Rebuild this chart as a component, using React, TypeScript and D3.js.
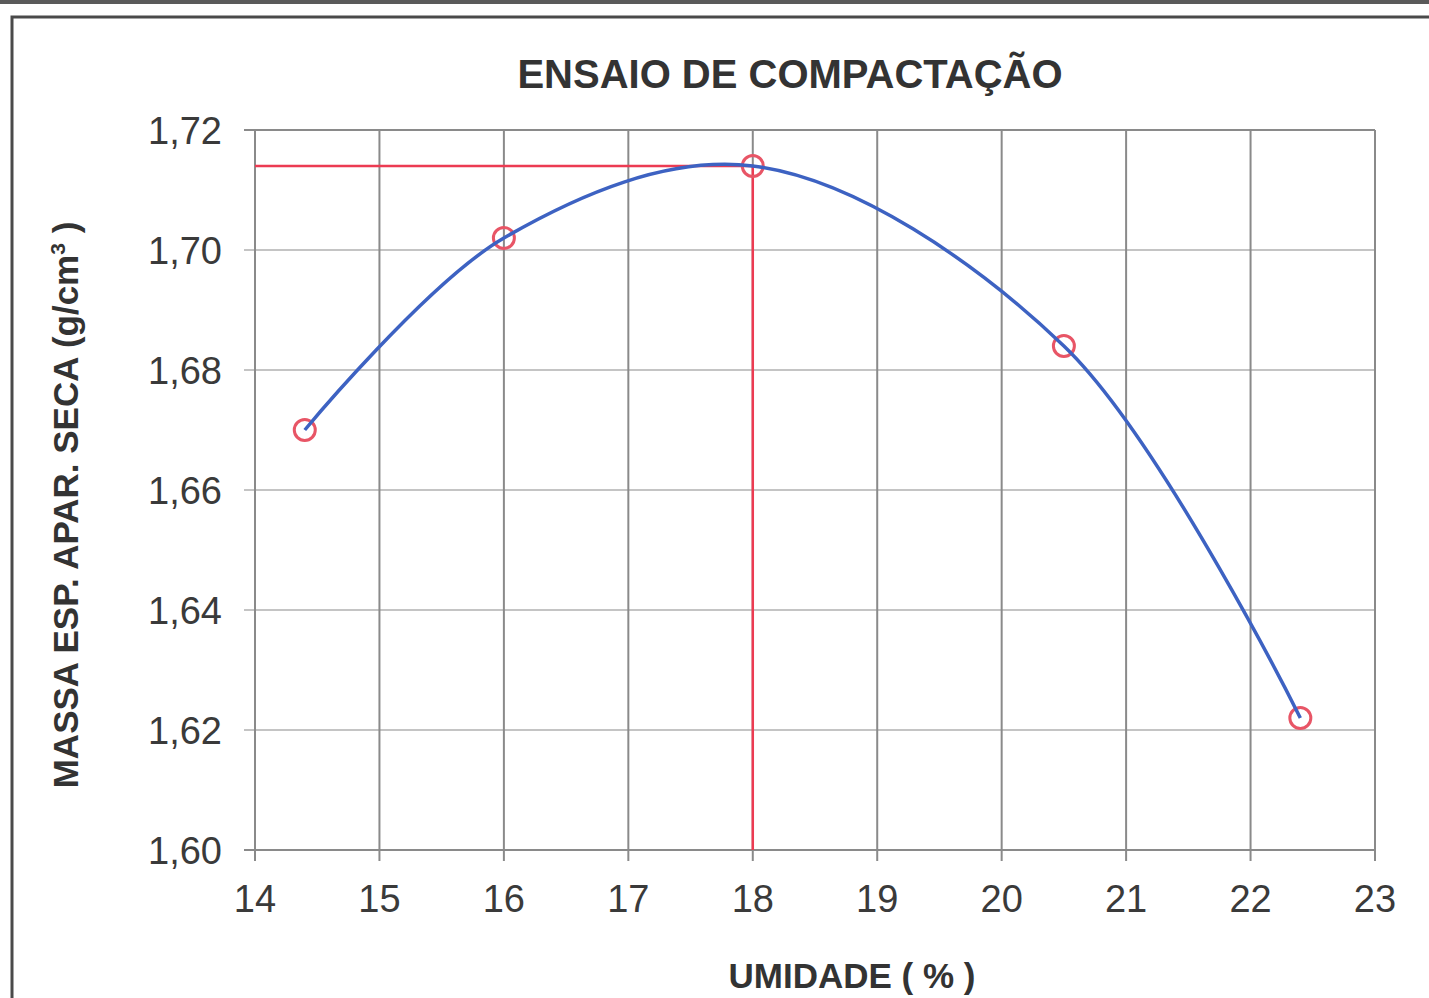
import { useRef, useEffect } from 'react';
import * as d3 from 'd3';

const W = 1429;
const H = 998;

const umidade = [14.4, 16.0, 18.0, 20.5, 22.4];
const massa = [1.670, 1.702, 1.714, 1.684, 1.622];
const xTicks = [14, 15, 16, 17, 18, 19, 20, 21, 22, 23];
const yTicks = [1.60, 1.62, 1.64, 1.66, 1.68, 1.70, 1.72];
const otimo = { umidade: 18.0, massa: 1.714 };

const TITLE = 'ENSAIO DE COMPACTAÇÃO';
const X_LABEL = 'UMIDADE ( % )';
const FONT = '"Liberation Sans", Arial, sans-serif';

export default function App() {
  const ref = useRef<SVGSVGElement>(null);

  useEffect(() => {
    document.body.style.margin = '0';
    const svg = d3.select(ref.current);
    svg.selectAll('*').remove();

    const m = { top: 130, right: 54, bottom: 148, left: 255 };
    const x = d3.scaleLinear().domain([14, 23]).range([m.left, W - m.right]);
    const y = d3.scaleLinear().domain([1.60, 1.72]).range([H - m.bottom, m.top]);

    svg.append('rect').attr('width', W).attr('height', H).attr('fill', '#fff');

    // outer frame of the report page
    svg.append('line').attr('x1', 0).attr('x2', W).attr('y1', 2).attr('y2', 2)
      .attr('stroke', '#5a5a5a').attr('stroke-width', 4);
    svg.append('path').attr('d', `M12,${H + 5}V17H${W + 5}`)
      .attr('fill', 'none').attr('stroke', '#4a4a4a').attr('stroke-width', 3);

    // horizontal grid
    svg.append('g').selectAll('line').data(yTicks).join('line')
      .attr('x1', x(14) - 11).attr('x2', x(23))
      .attr('y1', d => y(d)).attr('y2', d => y(d))
      .attr('stroke', d => (d === 1.60 || d === 1.72 ? '#8a8a8a' : '#c4c4c4'))
      .attr('stroke-width', 2);

    // vertical grid
    svg.append('g').selectAll('line').data(xTicks).join('line')
      .attr('x1', d => x(d)).attr('x2', d => x(d))
      .attr('y1', y(1.72)).attr('y2', y(1.60) + 11)
      .attr('stroke', '#8a8a8a').attr('stroke-width', 2);

    // tick labels
    svg.append('g').selectAll('text').data(yTicks).join('text')
      .attr('x', x(14) - 33).attr('y', d => y(d)).attr('dy', '0.36em')
      .attr('text-anchor', 'end').attr('font-family', FONT).attr('font-size', 38)
      .attr('fill', '#3a3a3a').text(d => d3.format('.2f')(d).replace('.', ','));

    svg.append('g').selectAll('text').data(xTicks).join('text')
      .attr('x', d => x(d)).attr('y', y(1.60) + 62)
      .attr('text-anchor', 'middle').attr('font-family', FONT).attr('font-size', 38)
      .attr('fill', '#3a3a3a').text(d => String(d));

    // optimum lines
    svg.append('line').attr('x1', x(14)).attr('x2', x(otimo.umidade))
      .attr('y1', y(otimo.massa)).attr('y2', y(otimo.massa))
      .attr('stroke', '#ec3b52').attr('stroke-width', 2.5);
    svg.append('line').attr('x1', x(otimo.umidade)).attr('x2', x(otimo.umidade))
      .attr('y1', y(otimo.massa)).attr('y2', y(1.60))
      .attr('stroke', '#ec3b52').attr('stroke-width', 2.5);

    const pts: [number, number][] = umidade.map((u, i) => [u, massa[i]]);

    svg.append('g').selectAll('circle').data(pts).join('circle')
      .attr('cx', d => x(d[0])).attr('cy', d => y(d[1])).attr('r', 10.5)
      .attr('fill', 'none').attr('stroke', '#e85566').attr('stroke-width', 3);

    const line = d3.line<[number, number]>()
      .x(d => x(d[0])).y(d => y(d[1]))
      .curve(d3.curveCatmullRom.alpha(0.5));
    svg.append('path').datum(pts).attr('d', line)
      .attr('fill', 'none').attr('stroke', '#3d62c2').attr('stroke-width', 3.5);

    // titles
    svg.append('text').attr('x', 790).attr('y', 88)
      .attr('text-anchor', 'middle').attr('font-family', FONT).attr('font-weight', 700)
      .attr('font-size', 40).attr('fill', '#333').text(TITLE);

    svg.append('text').attr('x', 852).attr('y', 988)
      .attr('text-anchor', 'middle').attr('font-family', FONT).attr('font-weight', 700)
      .attr('font-size', 35).attr('fill', '#333').text(X_LABEL);

    const yl = svg.append('text')
      .attr('transform', `translate(78,${(y(1.60) + y(1.72)) / 2 + 15}) rotate(-90)`)
      .attr('text-anchor', 'middle').attr('font-family', FONT).attr('font-weight', 700)
      .attr('font-size', 35).attr('fill', '#333');
    yl.append('tspan').text('MASSA ESP. APAR. SECA (g/cm');
    yl.append('tspan').attr('font-size', 21).attr('dy', -13).text('3');
    yl.append('tspan').attr('dy', 13).text(' )');
  }, []);

  return <svg ref={ref} width={W} height={H} style={{ display: 'block' }} />;
}
